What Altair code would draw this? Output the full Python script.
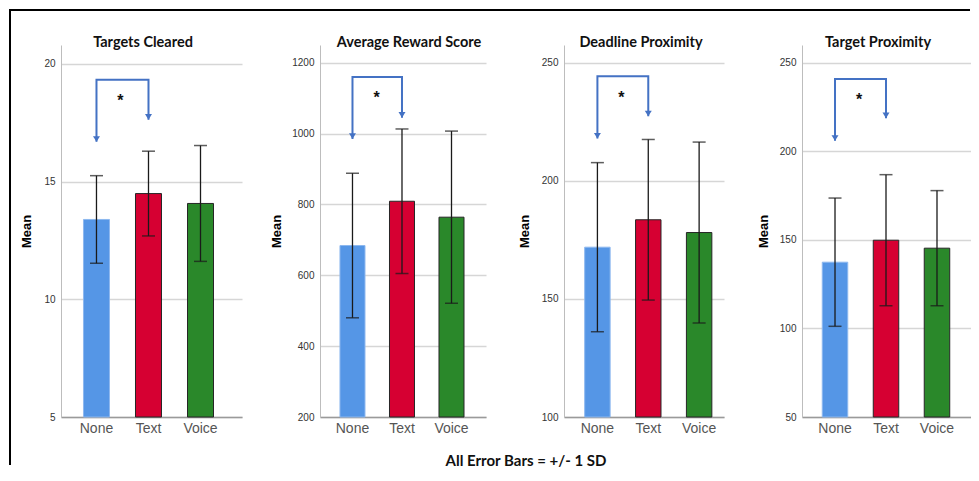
import altair as alt
import pandas as pd

groups = ["None", "Text", "Voice"]
bar_colors = ["#5596e6", "#d60032", "#2a882a"]
bar_strokes = ["#8db8ef", "#262626", "#262626"]

titles = ["Targets Cleared", "Average Reward Score", "Deadline Proximity", "Target Proximity"]

# means and standard deviations
tc_mean = [13.39, 14.49, 14.07]
tc_sd = [1.86, 1.80, 2.46]
rs_mean = [684, 809, 764]
rs_sd = [204, 204, 243]
dp_mean = [171.9, 183.5, 178.1]
dp_sd = [35.8, 34.0, 38.3]
tp_mean = [137.4, 149.8, 145.3]
tp_sd = [36.2, 37.0, 32.5]

# y axes
tc_domain = [5, 20.8]
tc_ticks = [5, 10, 15, 20]
rs_domain = [200, 1250]
rs_ticks = [200, 400, 600, 800, 1000, 1200]
dp_domain = [100, 257.5]
dp_ticks = [100, 150, 200, 250]
tp_domain = [50, 260]
tp_ticks = [50, 100, 150, 200, 250]

# significance bracket: left arrow tip, bracket top, right arrow tip, asterisk
tc_sig = [16.69, 19.32, 17.63, 18.6]
rs_sig = [985, 1160, 1045, 1113]
dp_sig = [217.9, 244.3, 227.3, 236.7]
tp_sig = [205.9, 240.8, 218.7, 231.0]

footer = "All Error Bars = +/- 1 SD"

BLUE = "#4472c4"
H = 372
ARROW = "M-1,-1.6L1,-1.6L0,0Z"


def panel(title, means, sds, domain, ticks, sig, width, band, title_x, axis_title_x,
          border=False, foot=False):
    p_inner, p_outer, align = band
    df = pd.DataFrame({"group": groups, "mean": means, "sd": sds})
    df["lo"] = df["mean"] - df["sd"]
    df["hi"] = df["mean"] + df["sd"]
    df["base"] = domain[0]

    xenc = alt.X(
        "group:N", sort=groups,
        scale=alt.Scale(domain=groups, paddingInner=p_inner, paddingOuter=p_outer, align=align),
        axis=alt.Axis(title=None, labelAngle=0, ticks=False, tickSize=0, labelPadding=4,
                      labelFontSize=14, labelColor="#555555", labelFont="Liberation Sans",
                      domainColor="#9a9a9a", domainWidth=1.5, grid=False),
    )
    yscale = alt.Scale(domain=domain, zero=False, nice=False)
    yaxis = alt.Axis(
        title="Mean", values=ticks, format="d", grid=True, ticks=False, tickSize=0,
        labelPadding=6, labelFont="Liberation Sans", labelFontSize=10, labelColor="#333333",
        labelFlush=False, labelOverlap=False,
        domainColor="#bdbdbd", domainWidth=1, gridColor="#d6d6d6", gridWidth=1.5,
        titleFont="Liberation Sans", titleFontSize=13, titleFontWeight="bold",
        titleColor="#000000", titleX=axis_title_x, titleBaseline="middle", titleAngle=270,
    )

    bars = alt.Chart(df).mark_bar(strokeWidth=1).encode(
        x=xenc,
        y=alt.Y("mean:Q", scale=yscale, axis=yaxis),
        y2="base:Q",
        color=alt.Color("group:N", scale=alt.Scale(domain=groups, range=bar_colors), legend=None),
        stroke=alt.Stroke("group:N", scale=alt.Scale(domain=groups, range=bar_strokes), legend=None),
    )
    err = alt.Chart(df).mark_rule(color="#1a1a1a", strokeWidth=1.3).encode(
        x="group:N", y="lo:Q", y2="hi:Q"
    )
    cap_hi = alt.Chart(df).mark_tick(color="#1a1a1a", thickness=1.5, size=13).encode(
        x="group:N", y="hi:Q"
    )
    cap_lo = alt.Chart(df).mark_tick(color="#1a1a1a", thickness=1.5, size=13).encode(
        x="group:N", y="lo:Q"
    )

    bdf = pd.DataFrame({
        "group": ["None", "None", "Text", "Text"],
        "v": [sig[0], sig[1], sig[1], sig[2]],
        "o": [0, 1, 2, 3],
    })
    bracket = alt.Chart(bdf).mark_line(color=BLUE, strokeWidth=2).encode(
        x="group:N", y="v:Q", order="o:Q"
    )
    adf = pd.DataFrame({"group": ["None", "Text"], "v": [sig[0], sig[2]]})
    arrows = alt.Chart(adf).mark_point(
        shape=ARROW, filled=True, size=49, color=BLUE, opacity=1
    ).encode(x="group:N", y="v:Q")
    sdf = pd.DataFrame({"group": ["None"], "v": [sig[3]], "t": ["*"]})
    star = alt.Chart(sdf).mark_text(
        fontSize=16, fontWeight="bold", color="#111111", dx=24, dy=4,
        font="Liberation Sans", baseline="middle"
    ).encode(x="group:N", y="v:Q", text="t:N")

    tdf = pd.DataFrame({"t": [title]})
    ttext = alt.Chart(tdf).mark_text(
        font="Lato", fontSize=14.5, fontWeight="bold", color="#111111",
        align="center", baseline="alphabetic"
    ).encode(x=alt.value(title_x), y=alt.value(2), text="t:N")

    layers = [bars, err, cap_hi, cap_lo, bracket, arrows, star, ttext]

    if border:
        top_rule = alt.Chart(df).mark_rule(color="#000000", strokeWidth=2).encode(
            x=alt.value(-52), x2=alt.value(909), y=alt.value(-35)
        )
        left_rule = alt.Chart(df).mark_rule(color="#000000", strokeWidth=2).encode(
            x=alt.value(-51), y=alt.value(-36), y2=alt.value(420)
        )
        layers += [top_rule, left_rule]
    if foot:
        fdf = pd.DataFrame({"t": [footer]})
        ftext = alt.Chart(fdf).mark_text(
            font="Lato", fontSize=15, fontWeight="bold", color="#111111",
            align="center", baseline="alphabetic"
        ).encode(x=alt.value(206), y=alt.value(421), text="t:N")
        layers.append(ftext)

    return alt.layer(*layers).properties(width=width, height=H)


p1 = panel(titles[0], tc_mean, tc_sd, tc_domain, tc_ticks, tc_sig, 181,
           (0.5, 0.49, 0.441), 82, -35, border=True)
p2 = panel(titles[1], rs_mean, rs_sd, rs_domain, rs_ticks, rs_sig, 166,
           (0.495, 0.424, 0.476), 89, -44, foot=True)
p3 = panel(titles[2], dp_mean, dp_sd, dp_domain, dp_ticks, dp_sig, 160,
           (0.5, 0.323, 0.63), 77, -40)
p4 = panel(titles[3], tp_mean, tp_sd, tp_domain, tp_ticks, tp_sig, 169,
           (0.5, 0.407, 0.488), 76, -39)

chart = alt.hconcat(p1, p2, p3, p4, spacing=78, bounds="flush").properties(
    padding=0, background="white"
).configure_view(stroke=None)

chart.save("out.html", embed_options={"renderer": "svg", "actions": False})
